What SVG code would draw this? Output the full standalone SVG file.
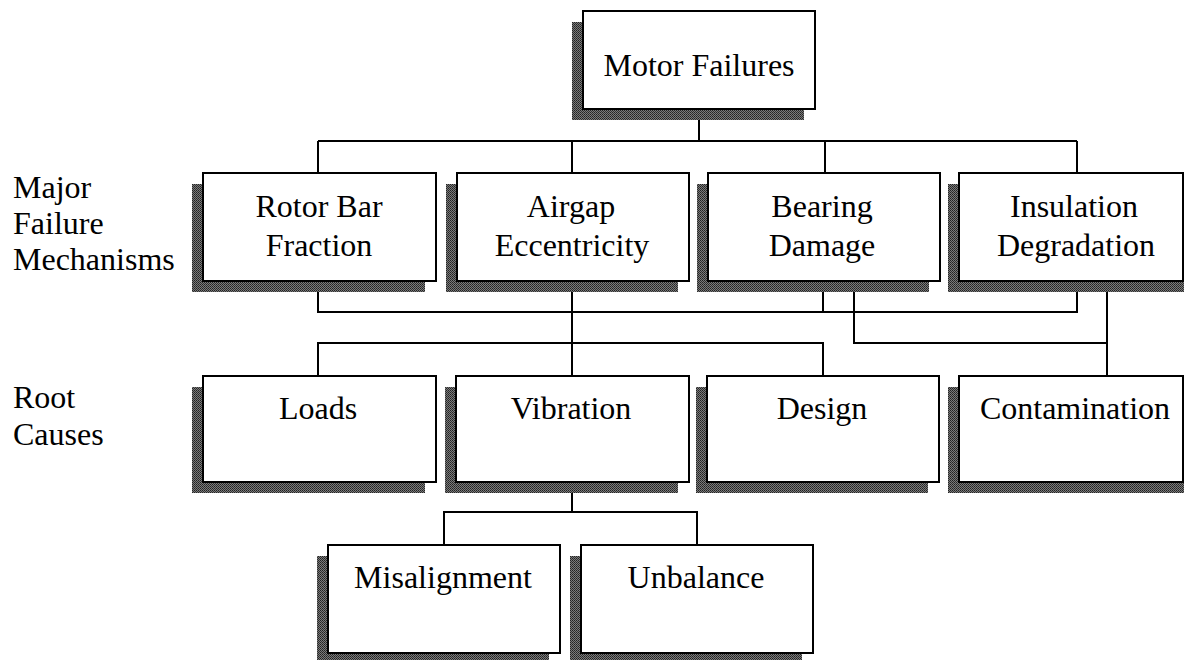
<svg xmlns="http://www.w3.org/2000/svg" width="1185" height="660" viewBox="0 0 1185 660">
  <defs>
    <!-- stippled drop shadow texture -->
    <pattern id="stipple" width="2" height="2" patternUnits="userSpaceOnUse">
      <rect width="2" height="2" fill="#7a7a7a"/>
      <rect width="1" height="1" fill="#222222"/>
      <rect x="1" y="1" width="1" height="1" fill="#333333"/>
    </pattern>
  </defs>
  <style>
    .shadow { fill: url(#stipple); stroke: none; }
    .box { fill: #ffffff; stroke: #000000; stroke-width: 2; }
    .label { font-family: "Liberation Serif", "Times New Roman", serif; font-size: 32px; fill: #000000; text-anchor: middle; }
    .side { font-family: "Liberation Serif", "Times New Roman", serif; font-size: 32px; fill: #000000; }
    .wire { fill: none; stroke: #000000; stroke-width: 2; }
  </style>

  <rect width="1185" height="660" fill="#ffffff"/>

  <!-- row captions -->
  <g id="caption-mechanisms">
    <text class="side" x="13" y="198">Major</text>
    <text class="side" x="13" y="234">Failure</text>
    <text class="side" x="13" y="270">Mechanisms</text>
  </g>
  <g id="caption-causes">
    <text class="side" x="13" y="408">Root</text>
    <text class="side" x="13" y="445">Causes</text>
  </g>

  <!-- connectors -->
  <g id="connectors">
    <!-- top level to mechanisms -->
    <path class="wire" d="M699 109 V141 M318 141 H1077 M318 141 V173 M572 141 V173 M825 141 V173 M1077 141 V173"/>
    <!-- mechanisms joined below -->
    <path class="wire" d="M318 281 V312 H1077 V281 M823 281 V312"/>
    <path class="wire" d="M572 281 V343"/>
    <path class="wire" d="M854 281 V343 H1107"/>
    <path class="wire" d="M1107 281 V376"/>
    <!-- root causes -->
    <path class="wire" d="M318 376 V343 H823 V376 M572 343 V376"/>
    <!-- vibration breakdown -->
    <path class="wire" d="M572 482 V512 M444 545 V512 H697 V545"/>
  </g>

  <!-- top node -->
  <g id="motor-failures">
    <rect class="shadow" x="572" y="22" width="232" height="98"/>
    <rect class="box" x="583" y="11" width="232" height="98"/>
    <text class="label" x="699" y="76">Motor Failures</text>
  </g>

  <!-- major failure mechanisms -->
  <g id="rotor-bar-fraction">
    <rect class="shadow" x="192" y="184" width="233" height="108"/>
    <rect class="box" x="203" y="173" width="233" height="108"/>
    <text class="label" x="319" y="217">Rotor Bar</text>
    <text class="label" x="319" y="256">Fraction</text>
  </g>
  <g id="airgap-eccentricity">
    <rect class="shadow" x="446" y="184" width="232" height="108"/>
    <rect class="box" x="457" y="173" width="232" height="108"/>
    <text class="label" x="571" y="217">Airgap</text>
    <text class="label" x="572" y="256">Eccentricity</text>
  </g>
  <g id="bearing-damage">
    <rect class="shadow" x="697" y="184" width="232" height="108"/>
    <rect class="box" x="708" y="173" width="232" height="108"/>
    <text class="label" x="822" y="217">Bearing</text>
    <text class="label" x="822" y="256">Damage</text>
  </g>
  <g id="insulation-degradation">
    <rect class="shadow" x="948" y="184" width="236" height="108"/>
    <rect class="box" x="959" y="173" width="224" height="108"/>
    <text class="label" x="1074" y="217">Insulation</text>
    <text class="label" x="1076" y="256">Degradation</text>
  </g>

  <!-- root causes -->
  <g id="loads">
    <rect class="shadow" x="192" y="387" width="233" height="106"/>
    <rect class="box" x="203" y="376" width="233" height="106"/>
    <text class="label" x="318" y="419">Loads</text>
  </g>
  <g id="vibration">
    <rect class="shadow" x="445" y="387" width="233" height="106"/>
    <rect class="box" x="456" y="376" width="233" height="106"/>
    <text class="label" x="571" y="419">Vibration</text>
  </g>
  <g id="design">
    <rect class="shadow" x="696" y="387" width="232" height="106"/>
    <rect class="box" x="707" y="376" width="232" height="106"/>
    <text class="label" x="822" y="419">Design</text>
  </g>
  <g id="contamination">
    <rect class="shadow" x="948" y="387" width="236" height="106"/>
    <rect class="box" x="959" y="376" width="224" height="106"/>
    <text class="label" x="1075" y="419">Contamination</text>
  </g>

  <!-- vibration sub-causes -->
  <g id="misalignment">
    <rect class="shadow" x="317" y="556" width="232" height="108"/>
    <rect class="box" x="328" y="545" width="232" height="108"/>
    <text class="label" x="443" y="588">Misalignment</text>
  </g>
  <g id="unbalance">
    <rect class="shadow" x="570" y="556" width="232" height="108"/>
    <rect class="box" x="581" y="545" width="232" height="108"/>
    <text class="label" x="696" y="588">Unbalance</text>
  </g>
</svg>
